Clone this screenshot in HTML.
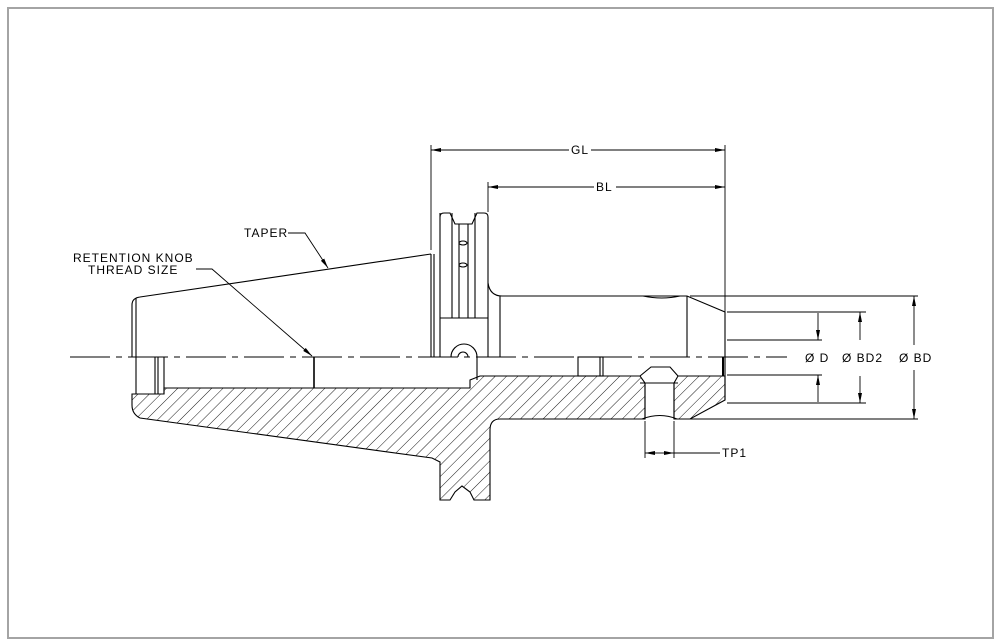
<!DOCTYPE html>
<html><head><meta charset="utf-8"><style>
html,body{margin:0;padding:0;background:#fff;}
svg{display:block;}
text{font-family:"Liberation Sans",Arial,sans-serif;font-size:12px;fill:#000;letter-spacing:1px;}
</style></head><body>
<svg width="1001" height="644" viewBox="0 0 1001 644" xmlns="http://www.w3.org/2000/svg">
<defs>
<pattern id="h" patternUnits="userSpaceOnUse" width="8" height="8" patternTransform="rotate(45)">
<line x1="0" y1="0" x2="0" y2="8" stroke="#000" stroke-width="0.9"/>
</pattern>
<marker id="a" viewBox="0 0 10 4" refX="10" refY="2" markerWidth="10" markerHeight="4" orient="auto-start-reverse" markerUnits="userSpaceOnUse">
<path d="M0,0 L10,2 L0,4 Z" fill="#000"/>
</marker>
</defs>
<rect x="8" y="8" width="985" height="630" fill="#fff" stroke="#a4a4a4" stroke-width="2"/>

<g fill="none" stroke="#000" stroke-width="1.1">
<path d="M132,394 L164,394 L164,388 L470,388 L470,380 L480,376 L640,376 L645,383 L645,419 L500,419 Q490,419 490,430 L490,500 L474,500 L470,492 L462,486 L455,492 L450,500 L440,500 L440,462 L432,458 L140,418 Q132,414 132,405 Z" fill="url(#h)"/>
<path d="M674,383 L678,376 L725,376 L725,400 L690,419 L674,419 Z" fill="url(#h)"/>

<path d="M132,357 L132,305 Q132,298 140,297 L431,254"/>
<line x1="136" y1="298" x2="136" y2="394"/>
<line x1="155" y1="357" x2="155" y2="394"/>
<line x1="158" y1="357" x2="158" y2="394"/>
<line x1="164" y1="357" x2="164" y2="394"/>
<line x1="314" y1="357" x2="314" y2="388" stroke-width="1.6"/>
<line x1="431" y1="254" x2="431" y2="357"/>
<line x1="434" y1="254" x2="434" y2="357"/>
<line x1="440" y1="213" x2="440" y2="357"/>
<path d="M440,318 L488,318"/>
<path d="M440,217 Q440,213 444,213 L450,213 L455,224 L472,224 L477,213 L484,213 Q488,213 488,217 L488,357"/>
<line x1="452" y1="213" x2="452" y2="318"/>
<line x1="459" y1="224" x2="459" y2="318"/>
<line x1="468" y1="224" x2="468" y2="318"/>
<line x1="475" y1="213" x2="475" y2="318"/>
<ellipse cx="463" cy="243" rx="4" ry="2"/>
<ellipse cx="463" cy="265" rx="4" ry="2"/>
<path d="M451,357 A13,13 0 0 1 477,357 L477,380"/>
<path d="M458,357 A5,5 0 0 1 468,357"/>
<path d="M488,283 Q490,296 502,296 L687,296 L725,312 L725,400"/>
<line x1="500" y1="296" x2="500" y2="357"/>
<line x1="687" y1="296" x2="687" y2="357"/>
<path d="M643,296 Q662,300 680,296"/>
<line x1="723" y1="357" x2="723" y2="376" stroke-width="2"/>
<rect x="578" y="357" width="25" height="19"/>
<line x1="600" y1="357" x2="600" y2="376"/>
<path d="M640,376 L651,367 L670,367 L678,376"/>
<line x1="645" y1="383" x2="645" y2="419"/>
<line x1="674" y1="383" x2="674" y2="419"/>
<line x1="640" y1="383" x2="678" y2="383"/>
<path d="M642,419 Q660,412 677,419"/>
</g>

<line x1="70" y1="357" x2="787" y2="357" stroke="#000" stroke-width="1" stroke-dasharray="40,6,6,6"/>

<g stroke="#000" stroke-width="0.9" fill="none">
<line x1="431" y1="145" x2="431" y2="250"/>
<line x1="725" y1="145" x2="725" y2="357"/>
<line x1="569" y1="150" x2="431" y2="150" marker-end="url(#a)"/>
<line x1="591" y1="150" x2="725" y2="150" marker-end="url(#a)"/>
<line x1="488" y1="182" x2="488" y2="212"/>
<line x1="594" y1="187" x2="488" y2="187" marker-end="url(#a)"/>
<line x1="616" y1="187" x2="725" y2="187" marker-end="url(#a)"/>
<line x1="690" y1="296" x2="918" y2="296"/>
<line x1="690" y1="419" x2="918" y2="419"/>
<line x1="727" y1="312" x2="866" y2="312"/>
<line x1="727" y1="403" x2="866" y2="403"/>
<line x1="727" y1="340" x2="822" y2="340"/>
<line x1="727" y1="375" x2="822" y2="375"/>
<line x1="818" y1="313" x2="818" y2="340" marker-end="url(#a)"/>
<line x1="818" y1="402" x2="818" y2="375" marker-end="url(#a)"/>
<line x1="860" y1="340" x2="860" y2="312" marker-end="url(#a)"/>
<line x1="860" y1="376" x2="860" y2="403" marker-end="url(#a)"/>
<line x1="914" y1="345" x2="914" y2="296" marker-end="url(#a)"/>
<line x1="914" y1="370" x2="914" y2="419" marker-end="url(#a)"/>
<line x1="645" y1="421" x2="645" y2="458"/>
<line x1="674" y1="421" x2="674" y2="458"/>
<line x1="659" y1="453" x2="645" y2="453" marker-end="url(#a)"/>
<line x1="659" y1="453" x2="674" y2="453" marker-end="url(#a)"/>
<line x1="674" y1="453" x2="720" y2="453"/>
<polyline points="288,233 305,233 328,268" marker-end="url(#a)"/>
<polyline points="196,269 212,269 312,356" marker-end="url(#a)"/>
</g>

<text x="571" y="154">GL</text>
<text x="596" y="191">BL</text>
<text x="805" y="362">Ø D</text>
<text x="842" y="362">Ø BD2</text>
<text x="899" y="362">Ø BD</text>
<text x="722" y="457">TP1</text>
<text x="244" y="237">TAPER</text>
<text x="73" y="262">RETENTION  KNOB</text>
<text x="88" y="274">THREAD  SIZE</text>
</svg>
</body></html>
